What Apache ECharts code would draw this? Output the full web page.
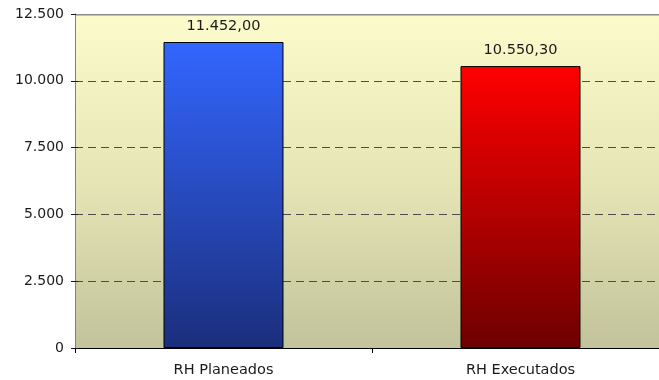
<!DOCTYPE html>
<html>
<head>
<meta charset="utf-8">
<script src="https://cdn.jsdelivr.net/npm/echarts@6/dist/echarts.min.js"></script>
<style>
  html, body { margin: 0; padding: 0; background: #ffffff; overflow: hidden; }
  /* the plot area runs a little past the right edge of the page */
  #chart { width: 669px; height: 380px; }
</style>
</head>
<body>
<div id="chart"></div>
<script>
// Planned vs executed human resources
const categories = ['RH Planeados', 'RH Executados'];
const values = [11452.00, 10550.30];
const yTicks = [0, 2500, 5000, 7500, 10000, 12500];

const FONT = 'DejaVu Sans';

// Thousands with '.' and decimals with ','
function fmtNumber(v, decimals) {
  const fixed = Number(v).toFixed(decimals);
  const parts = fixed.split('.');
  const intPart = parts[0].replace(/\B(?=(\d{3})+(?!\d))/g, '.');
  return decimals > 0 ? intPart + ',' + parts[1] : intPart;
}

const barGradients = [
  ['#3366ff', '#1b2e7c'],
  ['#ff0000', '#6e0000']
];

const chart = echarts.init(document.getElementById('chart'), null, { renderer: 'canvas' });

const yBase = {
  type: 'value',
  min: yTicks[0],
  max: yTicks[yTicks.length - 1],
  interval: yTicks[1] - yTicks[0],
  position: 'left'
};

chart.setOption({
  animation: false,
  backgroundColor: '#ffffff',
  grid: {
    left: 75, top: 14, right: 0, bottom: 32,
    show: true,
    borderWidth: 0,
    backgroundColor: new echarts.graphic.LinearGradient(0, 0, 0, 1, [
      { offset: 0, color: '#fcfbcb' },
      { offset: 0.5, color: '#e6e5b6' },
      { offset: 1, color: '#c2c39b' }
    ])
  },
  xAxis: {
    type: 'category',
    data: categories,
    boundaryGap: true,
    axisLine: { show: true, lineStyle: { color: '#000000', width: 1 } },
    axisTick: { show: true, alignWithLabel: false, length: 5, lineStyle: { color: '#000000' } },
    axisLabel: { color: '#1a1a1a', fontFamily: FONT, fontSize: 14.5, margin: 15 },
    splitLine: { show: false }
  },
  yAxis: [
    Object.assign({}, yBase, {
      axisLine: { show: true, lineStyle: { color: '#808080', width: 1 } },
      axisTick: { show: true, length: 4, lineStyle: { color: '#1a1a1a' } },
      axisLabel: {
        color: '#1a1a1a', fontFamily: FONT, fontSize: 14, margin: 11,
        formatter: v => fmtNumber(v, 0)
      },
      splitLine: { show: true, lineStyle: { color: '#4d4d4d', type: [8, 5], width: 1 } }
    }),
    Object.assign({}, yBase, {
      axisLine: { show: false },
      axisTick: { show: true, inside: true, length: 3, lineStyle: { color: '#1a1a1a' } },
      axisLabel: { show: false },
      splitLine: { show: false }
    })
  ],
  series: [{
    type: 'bar',
    yAxisIndex: 0,
    barWidth: '40.4%',
    data: values.map((v, i) => ({
      value: v,
      itemStyle: {
        color: new echarts.graphic.LinearGradient(0, 0, 0, 1, [
          { offset: 0, color: barGradients[i][0] },
          { offset: 1, color: barGradients[i][1] }
        ]),
        borderColor: '#000000',
        borderWidth: 1
      }
    })),
    label: {
      show: true,
      position: 'top',
      distance: 8,
      color: '#1a1a1a',
      fontFamily: FONT,
      fontSize: 14.5,
      formatter: p => fmtNumber(p.value, 2)
    }
  }],
  graphic: {
    elements: [
      // solid top border of the plot area, drawn over the top gridline
      {
        type: 'line', z: 1000, zlevel: 1, silent: true,
        shape: { x1: 76, y1: 14.5, x2: 669, y2: 14.5 },
        style: { stroke: '#8a8a8a', lineWidth: 2 }
      },
      {
        type: 'rect', z: 1000, zlevel: 1, silent: true,
        shape: { x: 76, y: 12, width: 600, height: 2 },
        style: { fill: '#ffffff' }
      }
    ]
  }
});
</script>
</body>
</html>
